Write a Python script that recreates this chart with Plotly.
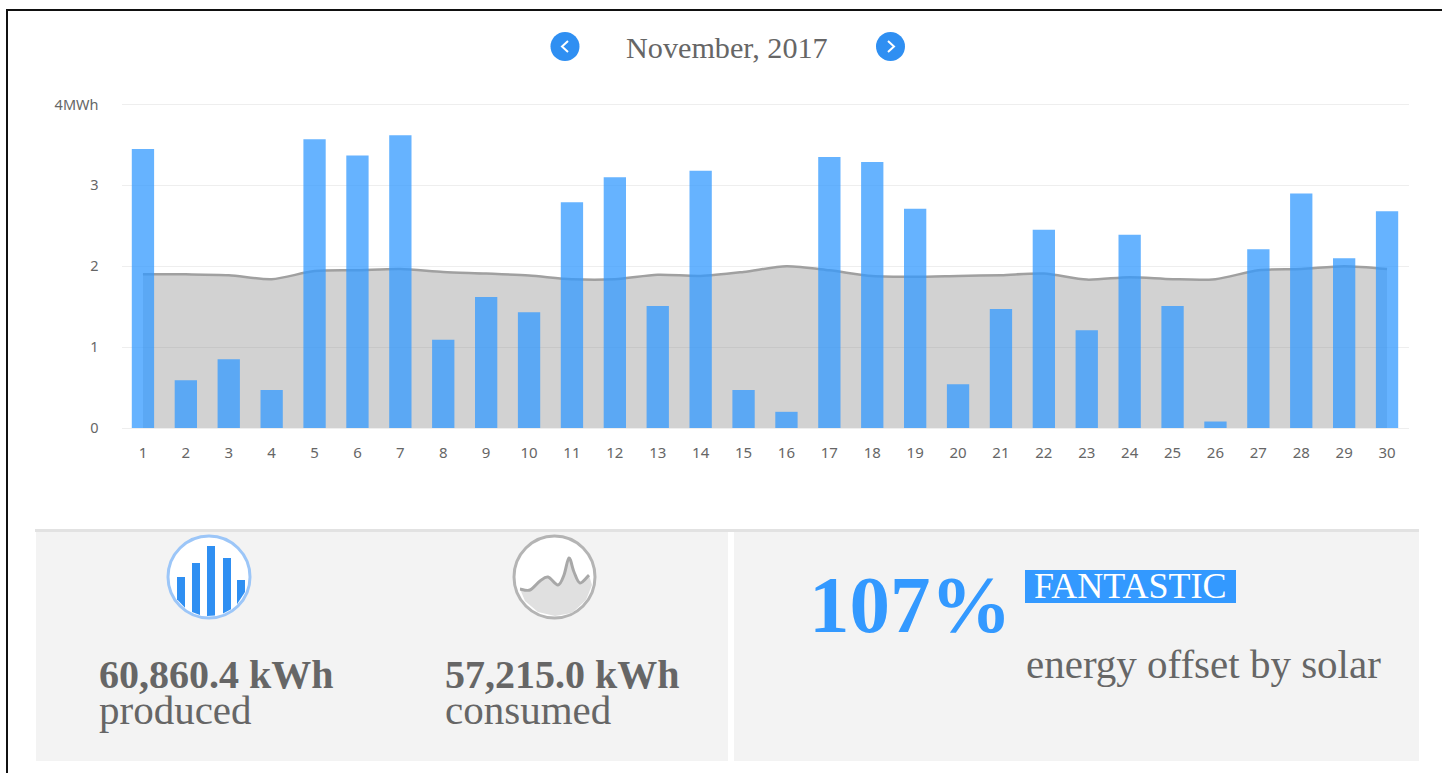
import math
import plotly.graph_objects as go

W, H = 1442, 773

days = list(range(1, 31))
produced = [3.45, 0.59, 0.85, 0.47, 3.57, 3.37, 3.62, 1.09, 1.62, 1.43,
            2.79, 3.10, 1.51, 3.18, 0.47, 0.20, 3.35, 3.29, 2.71, 0.54,
            1.47, 2.45, 1.21, 2.39, 1.51, 0.08, 2.21, 2.90, 2.10, 2.68]
consumed = [1.90, 1.90, 1.89, 1.84, 1.94, 1.95, 1.965, 1.93, 1.91, 1.885,
            1.84, 1.84, 1.895, 1.88, 1.93, 2.00, 1.95, 1.88, 1.87, 1.88,
            1.89, 1.91, 1.835, 1.865, 1.84, 1.84, 1.95, 1.965, 2.00, 1.965]
y_ticks = [0, 1, 2, 3, 4]
y_labels = ["0", "1", "2", "3", "4MWh"]

BLUE = "#3399ff"
TXT = "#666666"
SERIF = "Liberation Serif"


def px(x):
    return x / W


def py(y):
    return 1 - y / H


def rect(x0, y0, x1, y1, fill):
    return dict(type="rect", xref="paper", yref="paper", x0=px(x0), x1=px(x1),
                y0=py(y0), y1=py(y1), fillcolor=fill, line_width=0, layer="below")


def circle(x0, y0, x1, y1, fill, line="rgba(0,0,0,0)", lw=0):
    return dict(type="circle", xref="paper", yref="paper", x0=px(x0), x1=px(x1),
                y0=py(y0), y1=py(y1), fillcolor=fill,
                line=dict(color=line, width=lw), layer="above")


def pt(p):
    return f"{px(p[0]):.5f},{py(p[1]):.5f}"


def path(points, close=False, **kw):
    s = "M" + " L".join(pt(p) for p in points) + (" Z" if close else "")
    return dict(type="path", xref="paper", yref="paper", path=s, layer="above", **kw)


def smooth(points):
    """Catmull-Rom curve through icon points, as an SVG path fragment."""
    s = "M" + pt(points[0])
    for i in range(len(points) - 1):
        p0 = points[max(i - 1, 0)]
        p1 = points[i]
        p2 = points[i + 1]
        p3 = points[min(i + 2, len(points) - 1)]
        c1 = (p1[0] + (p2[0] - p0[0]) / 6, p1[1] + (p2[1] - p0[1]) / 6)
        c2 = (p2[0] - (p3[0] - p1[0]) / 6, p2[1] - (p3[1] - p1[1]) / 6)
        s += f" C{pt(c1)} {pt(c2)} {pt(p2)}"
    return s


def text(x, y, s, size, color=TXT, bold=False, anchor="left"):
    return dict(xref="paper", yref="paper", x=px(x), y=py(y), text=f"<b>{s}</b>" if bold else s,
                showarrow=False, xanchor=anchor, yanchor="middle",
                font=dict(family=SERIF, size=size, color=color), borderpad=0, borderwidth=0)


shapes = [
    rect(6, 9, W, 11, "#111111"),
    rect(6, 9, 8, H, "#111111"),
    rect(35, 529, 1419, 532, "#e2e2e2"),
    rect(36, 532, 728, 761, "#f3f3f3"),
    rect(734, 532, 1419, 761, "#f3f3f3"),
    rect(1025, 570, 1236, 603, BLUE),
]

# navigation buttons
for cx, pts in ((565, [(568, 41), (562, 46.5), (568, 52)]),
                (890.5, [(888, 41), (894, 46.5), (888, 52)])):
    shapes.append(circle(cx - 14.5, 32, cx + 14.5, 61, "#2f8ff2"))
    shapes.append(path(pts, line=dict(color="white", width=2)))

# produced icon: bars clipped by the ring
ICX, ICY, IR = 209, 577, 39
shapes.append(circle(168, 536, 250, 618, "#ffffff", "#9cc6f8", 3))
for cx, top in ((181, 577), (196, 563), (211, 546), (227, 558), (241, 580)):
    x0, x1 = cx - 4, cx + 4
    b0 = ICY + math.sqrt(IR ** 2 - (x0 - ICX) ** 2)
    b1 = ICY + math.sqrt(IR ** 2 - (x1 - ICX) ** 2)
    shapes.append(path([(x0, top), (x1, top), (x1, b1), (x0, b0)], close=True,
                       fillcolor="#2f8ff2", line_width=0))

# consumed icon
shapes.append(circle(514, 536, 595, 618, "#ffffff", "#b4b4b4", 3))
icon_line = [(520, 589), (530, 590), (540, 581), (548, 577), (558, 585),
             (564, 575), (569, 558), (574, 572), (580, 583), (589, 575)]
fill_tail = [(592, 585), (586, 600), (572, 613), (555, 616), (538, 612), (525, 601)]
shapes.append(dict(type="path", xref="paper", yref="paper", layer="above",
                   path=smooth(icon_line) + "".join(" L" + pt(p) for p in fill_tail) + " Z",
                   fillcolor="#e0e0e0", line_width=0))
shapes.append(dict(type="path", xref="paper", yref="paper", layer="above",
                   path=smooth(icon_line), line=dict(color="#a8a8a8", width=3)))

annotations = [
    text(727, 48, "November, 2017", 30.2, anchor="center"),
    text(99, 674, "60,860.4 kWh", 40, bold=True),
    text(99, 710, "produced", 41),
    text(445, 674, "57,215.0 kWh", 40, bold=True),
    text(445, 710, "consumed", 41),
    text(809, 605, "107%", 81, color=BLUE, bold=True),
    text(1034, 586, "FANTASTIC", 36, color="white"),
    text(1026, 664, "energy offset by solar", 41),
]

fig = go.Figure()
fig.add_trace(go.Scatter(
    x=days, y=consumed, mode="lines", xaxis="x", yaxis="y",
    line=dict(color="#a0a0a0", width=2.5, shape="spline", smoothing=0.8),
    fill="tozeroy", fillcolor="rgba(130,130,130,0.36)", showlegend=False,
))
fig.add_trace(go.Bar(
    x=days, y=produced, xaxis="x2", yaxis="y2", width=0.52,
    marker=dict(color="rgba(51,153,255,0.75)", line_width=0), showlegend=False,
))

dom_x = [px(121.5), px(1408.5)]
# a sliver of headroom above 4 so that the top gridline is drawn
dom_y = [py(428), py(102.88)]
y_range = [0, 4.02]
fig.update_layout(
    template="none",
    width=W, height=H, autosize=False,
    margin=dict(l=0, r=0, t=0, b=0, pad=0, autoexpand=False),
    paper_bgcolor="white", plot_bgcolor="white",
    shapes=shapes, annotations=annotations,
    xaxis=dict(domain=dom_x, range=[0.5, 30.5], tickmode="array", tickvals=days,
               ticktext=[str(d) for d in days], showgrid=False, zeroline=False,
               showline=False, ticks="", ticklabelstandoff=14, automargin=False,
               tickfont=dict(family="Noto Sans", size=15, color=TXT)),
    yaxis=dict(domain=dom_y, range=y_range, tickmode="array", tickvals=y_ticks,
               ticktext=y_labels, showgrid=True, gridcolor="#eeeeee", gridwidth=1,
               zeroline=True, zerolinecolor="#eeeeee", showline=False, ticks="", automargin=False,
               ticklabelstandoff=22, tickfont=dict(family="Noto Sans", size=14.5, color=TXT)),
    xaxis2=dict(domain=dom_x, range=[0.5, 30.5], overlaying="x", visible=False, automargin=False),
    yaxis2=dict(domain=dom_y, range=y_range, overlaying="y", visible=False, automargin=False),
)

fig.write_html("out.html", config={"displayModeBar": False},
               post_script="document.body.style.margin='0';document.body.style.overflow='hidden';")
